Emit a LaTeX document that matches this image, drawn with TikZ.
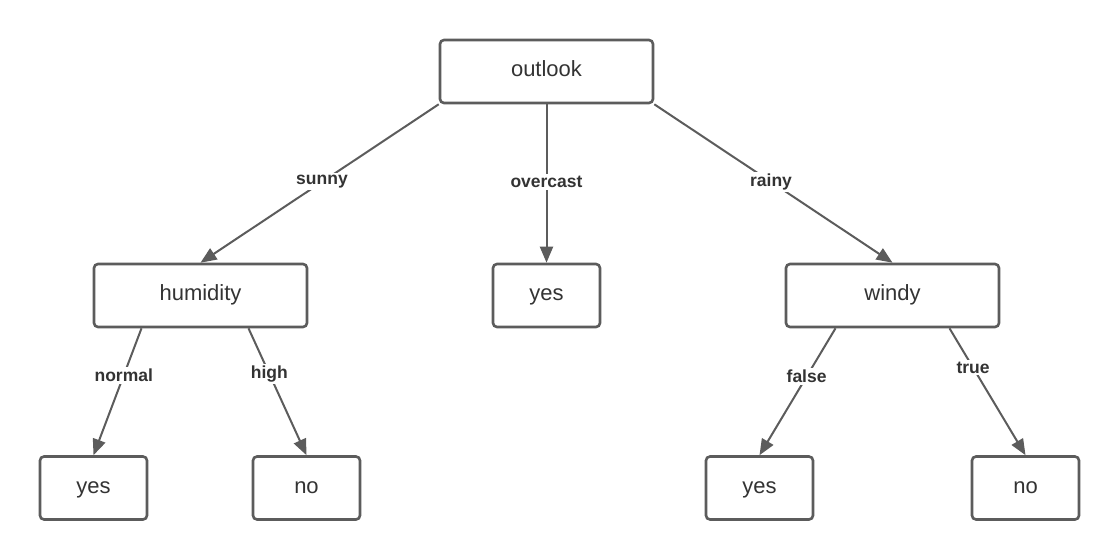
\documentclass[tikz,border=0pt]{standalone}
\usepackage{fontspec}
\setmainfont{Liberation Sans}
\usetikzlibrary{arrows.meta,calc}
\definecolor{edgegray}{HTML}{5C5C5C}
\definecolor{txtgray}{HTML}{333333}
\tikzset{
  treebox/.style={draw=edgegray, line width=2.6pt, rounded corners=4pt, fill=white,
    inner sep=0pt, minimum height=63pt, text=txtgray,
    text height=15pt, text depth=4.6pt,
    font=\fontsize{22}{26}\selectfont},
  widebox/.style={treebox, minimum width=213pt},
  narrowbox/.style={treebox, minimum width=107pt},
  branch/.style={draw=edgegray, line width=2pt,
    -{Triangle[length=16pt,width=13pt]}},
  blabel/.style={fill=white, inner sep=2pt, text=txtgray,
    font=\bfseries\fontsize{17.5}{21}\selectfont},
}
\begin{document}
\begin{tikzpicture}[x=1pt,y=-1pt]
\useasboundingbox (0,0) rectangle (1120,560);
\node[widebox] (outlook) at (546.5,71.5) {outlook};
\node[widebox] (humidity) at (200.5,295.5) {humidity};
\node[narrowbox] (yesmid) at (546.5,295.5) {yes};
\node[widebox] (windy) at (892.5,295.5) {windy};
\node[narrowbox] (yesleft) at (93.5,488) {yes};
\node[narrowbox] (noleft) at (306.5,488) {no};
\node[narrowbox] (yesright) at (759.5,488) {yes};
\node[narrowbox] (noright) at (1025.5,488) {no};

\draw[branch] (outlook.south west) -- node[blabel, pos=0.49] {sunny} (humidity.north);
\draw[branch] (outlook.south) -- node[blabel, pos=0.49] {overcast} (yesmid.north);
\draw[branch] (outlook.south east) -- node[blabel, pos=0.49] {rainy} (windy.north);
\draw[branch] ([xshift=-59pt]humidity.south) -- node[blabel, pos=0.37] {normal} (yesleft.north);
\draw[branch] ([xshift=48pt]humidity.south) -- node[blabel, pos=0.36] {high} (noleft.north);
\draw[branch] ([xshift=-57pt]windy.south) -- node[blabel, pos=0.38] {false} (yesright.north);
\draw[branch] ([xshift=57pt]windy.south) -- node[blabel, pos=0.31] {true} (noright.north);
\end{tikzpicture}
\end{document}
